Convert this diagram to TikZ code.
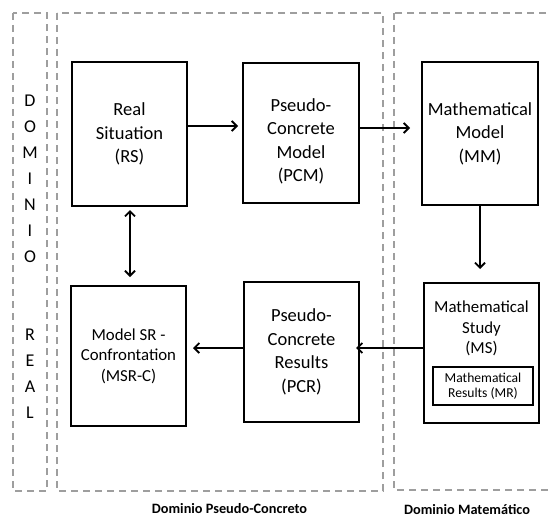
\documentclass[tikz,border=0pt]{standalone}
\usepackage{fontspec}
\setmainfont{Carlito}
\usetikzlibrary{arrows.meta}
\begin{document}
\begin{tikzpicture}[x=1pt,y=-1pt,
  zone/.style={draw=black!38, line width=1.6pt, dash pattern=on 7pt off 5pt},
  box/.style={draw=black, line width=2pt, align=center, inner sep=0pt,
    minimum width=115pt, minimum height=140pt, font=\fontsize{18.5}{23.5}\selectfont},
  smallbox/.style={box, font=\fontsize{16.8}{20.5}\selectfont},
  inbox/.style={draw=black, line width=1.6pt, align=center, inner sep=0pt,
    minimum width=100pt, minimum height=38pt, font=\fontsize{13.6}{15}\selectfont},
  boxtext/.style={align=center, inner sep=0pt},
  arr/.style={line width=1.8pt, -{Straight Barb[length=5pt,width=10pt]}},
  darr/.style={line width=1.8pt, {Straight Barb[length=5pt,width=10pt]}-{Straight Barb[length=5pt,width=10pt]}},
  vert/.style={align=center, inner sep=0pt, font=\fontsize{18}{26}\selectfont},
  zonelabel/.style={inner sep=0pt, font=\fontsize{14.3}{17}\selectfont\bfseries}]
\useasboundingbox (0,0) rectangle (551,519);

% zones
\draw[zone] (13,13) rectangle (47,491);
\draw[zone] (57,13) rectangle (383,491);
\draw[zone] (394,13) rectangle (575,490);

\node[vert] (real) at (30,256.5) {D\\O\\M\\I\\N\\I\\O\\[52pt]R\\E\\A\\L};

% boxes
\node[box, minimum height=144pt] (rs) at (129.5,134) {Real\\Situation\\(RS)};
\node[box, minimum width=116pt] (pcm) at (301,133) {\rule{0pt}{30pt}Pseudo-\\Concrete\\Model\\(PCM)};
\node[box, minimum width=116pt, minimum height=143pt] (mm) at (480,133.5) {Mathematical\\Model\\(MM)};
\node[smallbox] (ms) at (481.5,353) {};
\node[boxtext, font=\fontsize{16.8}{20.5}\selectfont] (mstext) at (481.5,328.5) {Mathematical\\Study\\(MS)};
\node[inbox] (mr) at (483,386) {Mathematical\\Results (MR)};
\node[smallbox] (msrc) at (128.5,356) {Model SR -\\Confrontation\\(MSR-C)};
\node[box] (pcr) at (301.5,352) {Pseudo-\\Concrete\\Results\\(PCR)};

% connectors
\draw[arr, shorten >=4pt] (rs.east |- 0,126) -- (pcm.west |- 0,126);
\draw[arr, shorten >=11pt] (pcm.east |- 0,128) -- (mm.west |- 0,128);
\draw[arr, shorten >=13pt] (mm.south) -- (mm.south |- ms.north);
\draw[arr, shorten >=-4pt] (ms.west |- 0,348) -- (pcr.east |- 0,348);
\draw[arr, shorten >=6pt] (pcr.west |- 0,348) -- (msrc.east |- 0,348);
\draw[darr, shorten <=3pt, shorten >=8pt] (rs.south -| 130,0) -- (msrc.north -| 130,0);

% zone labels
\node[zonelabel] (lpc) at (229.5,509) {Dominio Pseudo-Concreto};
\node[zonelabel] (lm) at (467,509.5) {Dominio Matemático};
\end{tikzpicture}
\end{document}
